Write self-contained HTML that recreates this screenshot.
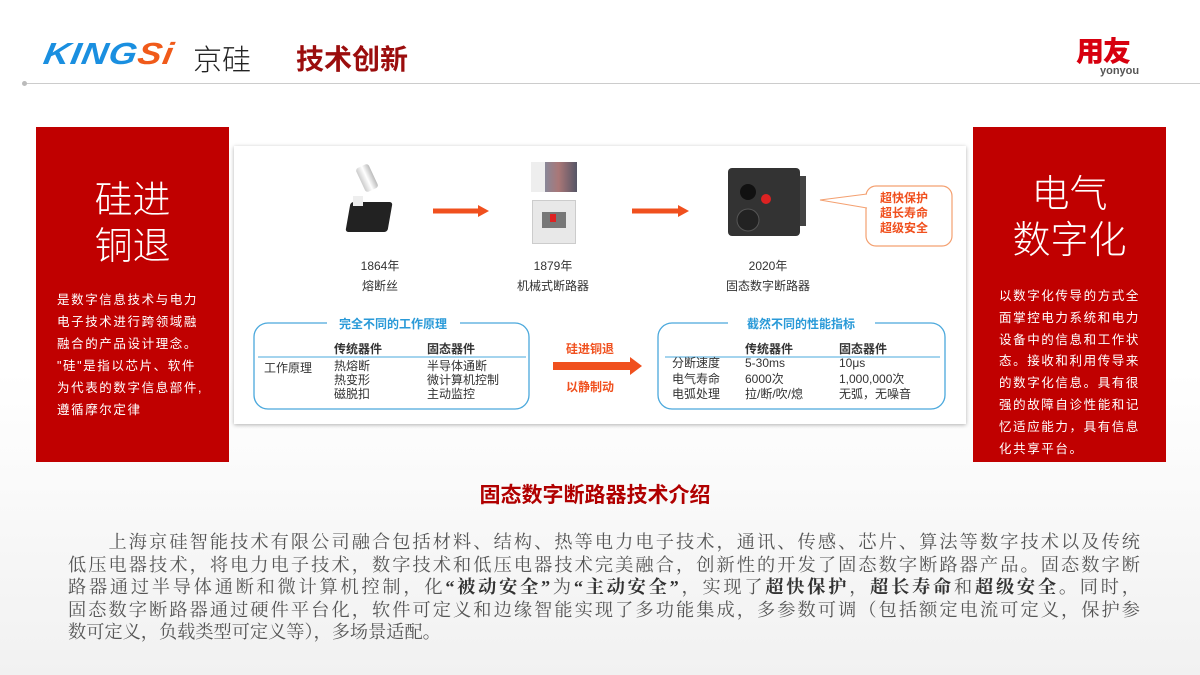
<!DOCTYPE html>
<html><head><meta charset="utf-8"><style>
*{margin:0;padding:0;box-sizing:border-box}
body{width:1200px;height:675px;overflow:hidden;position:relative;background:linear-gradient(180deg,#fff 0%,#fff 55%,#f1f1f1 100%);font-family:"Liberation Sans","Noto Sans CJK SC",sans-serif}
.a{position:absolute;white-space:nowrap}
.red{background:#c00000;position:absolute;color:#fff}
.big{font-family:"Liberation Sans","Noto Sans CJK SC",sans-serif;font-weight:300;font-size:38px;line-height:46px;text-align:center;width:100%;position:absolute}
.body{position:absolute;font-size:12.5px;line-height:22px;letter-spacing:1.6px;white-space:nowrap}
.c{transform:translateX(-50%);text-align:center}
.t{font-size:12px;color:#333}
.para{position:absolute;left:68px;width:1072px;top:531px;font-family:"Liberation Serif","Noto Serif CJK SC",serif;font-size:18.2px;color:#555;line-height:22.5px}
.para div{text-align:justify;text-align-last:justify;white-space:nowrap}
.para b{color:#333}
</style></head><body>
<div class="a" style="left:44px;top:33px;font-size:36px;font-weight:900;font-style:italic;letter-spacing:1px;color:#1a8fe0;transform:skewX(-10deg) scaleY(0.85);transform-origin:left center">KING<span style="color:#f05a1a">Si</span></div>
<div class="a" style="left:193px;top:37px;font-size:29px;color:#222;font-family:'Noto Sans CJK SC',sans-serif;font-weight:300">京硅</div>
<div class="a" style="left:296px;top:38px;font-size:28px;font-weight:700;color:#9b0d0d">技术创新</div>
<div class="a" style="left:25px;top:83px;width:1175px;height:1px;background:#ccc"></div>
<div class="a" style="left:22px;top:81px;width:5px;height:5px;border-radius:50%;background:#bbb"></div>
<div class="a" style="left:1076px;top:30px;font-size:28px;font-weight:900;color:#d7000f;letter-spacing:-1px">用友</div>
<div class="a" style="left:1100px;top:65px;font-size:11px;color:#555;font-weight:700">yonyou</div>

<div class="red" style="left:36px;top:127px;width:193px;height:335px">
<div class="big" style="top:51px">硅进<br>铜退</div>
<div class="body" style="left:21px;top:162px">是数字信息技术与电力<br>电子技术进行跨领域融<br>融合的产品设计理念。<br>"硅"是指以芯片、软件<br>为代表的数字信息部件,<br>遵循摩尔定律</div>
</div>
<div class="red" style="left:973px;top:127px;width:193px;height:335px">
<div class="big" style="top:45px">电气<br>数字化</div>
<div class="body" style="left:26px;top:159px;line-height:21.8px">以数字化传导的方式全<br>面掌控电力系统和电力<br>设备中的信息和工作状<br>态。接收和利用传导来<br>的数字化信息。具有很<br>强的故障自诊性能和记<br>忆适应能力，具有信息<br>化共享平台。</div>
</div>

<div class="a" style="left:234px;top:146px;width:732px;height:278px;background:#fff;box-shadow:0 1px 4px rgba(0,0,0,.3)"></div>
<div class="a" style="left:360px;top:165px;width:14px;height:26px;background:linear-gradient(90deg,#ccc,#fff,#bbb);border-radius:3px;transform:rotate(-25deg)"></div>
<div class="a" style="left:348px;top:202px;width:42px;height:30px;background:#222;border-radius:3px;transform:skewX(-10deg)"></div>
<div class="a" style="left:353px;top:196px;width:10px;height:10px;background:#eee"></div>
<div class="a" style="left:531px;top:162px;width:46px;height:30px;background:linear-gradient(90deg,#eee 30%,#889 30%,#a77 60%,#556);"></div>
<div class="a" style="left:532px;top:200px;width:44px;height:44px;background:#e8e8e8;border:1px solid #ccc"></div>
<div class="a" style="left:542px;top:212px;width:24px;height:16px;background:#777"></div>
<div class="a" style="left:550px;top:214px;width:6px;height:8px;background:#d22"></div>
<svg class="a" style="left:0;top:0" width="1200" height="675">
<path d="M433 211H480" stroke="#f0501e" stroke-width="5"/><path d="M478 205L489 211L478 217Z" fill="#f0501e"/>
<path d="M632 211H680" stroke="#f0501e" stroke-width="5"/><path d="M678 205L689 211L678 217Z" fill="#f0501e"/>
<path d="M553 366H632" stroke="#f0501e" stroke-width="8"/><path d="M630 357L642 366L630 375Z" fill="#f0501e"/>
<rect x="866" y="186" width="86" height="60" rx="10" fill="#fff" stroke="#f4a070" stroke-width="1.2"/>
<path d="M867 194L820 200L867 208" fill="#fff" stroke="#f4a070" stroke-width="1"/>
<path d="M868 195V207" stroke="#fff" stroke-width="2"/>
<path d="M327 323H268a14 14 0 0 0-14 14V395a14 14 0 0 0 14 14H515a14 14 0 0 0 14-14V337a14 14 0 0 0-14-14H460" fill="none" stroke="#4aa8dc" stroke-width="1.3"/>
<path d="M728 323H672a14 14 0 0 0-14 14V395a14 14 0 0 0 14 14H931a14 14 0 0 0 14-14V337a14 14 0 0 0-14-14H875" fill="none" stroke="#4aa8dc" stroke-width="1.3"/>
<path d="M258 357H526M665 357H940" stroke="#4aa8dc" stroke-width="1"/>
<rect x="728" y="168" width="72" height="68" rx="4" fill="#333"/>
<rect x="800" y="176" width="6" height="50" fill="#444"/>
<circle cx="748" cy="192" r="8" fill="#111"/><circle cx="766" cy="199" r="5" fill="#d22"/><circle cx="748" cy="220" r="11" fill="#222" stroke="#555"/>
</svg>
<div class="a t c" style="left:380px;top:257px">1864年</div>
<div class="a t c" style="left:380px;top:277px">熔断丝</div>
<div class="a t c" style="left:553px;top:257px">1879年</div>
<div class="a t c" style="left:553px;top:277px">机械式断路器</div>
<div class="a t c" style="left:768px;top:257px">2020年</div>
<div class="a t c" style="left:768px;top:277px">固态数字断路器</div>
<div class="a" style="left:880px;top:191px;font-size:12px;line-height:15px;font-weight:700;color:#f0501e">超快保护<br>超长寿命<br>超级安全</div>
<div class="a c" style="left:393px;top:315px;font-size:12px;font-weight:700;color:#2a9ad8">完全不同的工作原理</div>
<div class="a c" style="left:801px;top:315px;font-size:12px;font-weight:700;color:#2a9ad8">截然不同的性能指标</div>
<div class="a c" style="left:590px;top:340px;font-size:12px;font-weight:700;color:#f0501e">硅进铜退</div>
<div class="a c" style="left:590px;top:378px;font-size:12px;font-weight:700;color:#f0501e">以静制动</div>
<div class="a t" style="left:334px;top:340px;font-weight:700">传统器件</div>
<div class="a t" style="left:427px;top:340px;font-weight:700">固态器件</div>
<div class="a t" style="left:264px;top:359px">工作原理</div>
<div class="a t" style="left:334px;top:359px;line-height:14px">热熔断<br>热变形<br>磁脱扣</div>
<div class="a t" style="left:427px;top:359px;line-height:14px">半导体通断<br>微计算机控制<br>主动监控</div>
<div class="a t" style="left:745px;top:340px;font-weight:700">传统器件</div>
<div class="a t" style="left:839px;top:340px;font-weight:700">固态器件</div>
<div class="a t" style="left:672px;top:356px;line-height:15.5px">分断速度<br>电气寿命<br>电弧处理</div>
<div class="a t" style="left:745px;top:356px;line-height:15.5px">5-30ms<br>6000次<br>拉/断/吹/熄</div>
<div class="a t" style="left:839px;top:356px;line-height:15.5px">10μs<br>1,000,000次<br>无弧，无噪音</div>

<div class="a c" style="left:595px;top:479px;font-size:21px;font-weight:700;color:#b00000">固态数字断路器技术介绍</div>
<div class="para">
<div>　　上海京硅智能技术有限公司融合包括材料、结构、热等电力电子技术，通讯、传感、芯片、算法等数字技术以及传统</div>
<div>低压电器技术，将电力电子技术，数字技术和低压电器技术完美融合，创新性的开发了固态数字断路器产品。固态数字断</div>
<div>路器通过半导体通断和微计算机控制，化<b>“被动安全”</b>为<b>“主动安全”</b>，实现了<b>超快保护</b>，<b>超长寿命</b>和<b>超级安全</b>。同时，</div>
<div>固态数字断路器通过硬件平台化，软件可定义和边缘智能实现了多功能集成，多参数可调（包括额定电流可定义，保护参</div>
<div style="text-align-last:left">数可定义，负载类型可定义等），多场景适配。</div>
</div>
</body></html>
